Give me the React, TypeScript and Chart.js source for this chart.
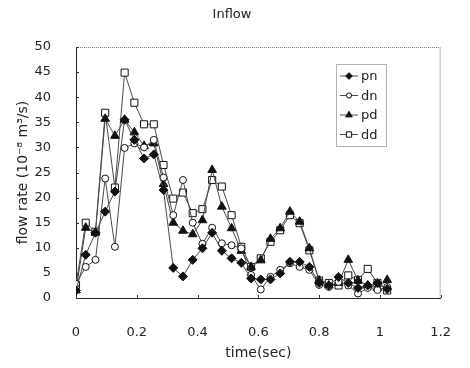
import React, { useEffect, useRef } from "react";
import { Chart, registerables } from "chart.js";

Chart.register(...registerables);

const times = [
  0, 0.032, 0.064, 0.096, 0.128, 0.16, 0.192, 0.224, 0.256, 0.288, 0.32,
  0.352, 0.384, 0.416, 0.448, 0.48, 0.512, 0.544, 0.576, 0.608, 0.64, 0.672,
  0.704, 0.736, 0.768, 0.8, 0.832, 0.864, 0.896, 0.928, 0.96, 0.992, 1.024,
];

const pn = [
  1.5, 8.6, 13, 17.2, 21.2, 35.5, 31.5, 27.8, 28.6, 21.5, 6, 4.3, 7.6, 9.9,
  13, 9.4, 7.9, 7, 3.9, 3.7, 3.7, 4.9, 7.2, 7.2, 6.2, 3.0, 2.5, 4.2, 3.0, 2.0,
  2.5, 3.0, 1.8,
];
const dn = [
  2.8, 6.2, 7.6, 23.8, 10.2, 29.9, 30.8, 30, 31.5, 24, 16.5, 23.5, 15, 10.8,
  14, 10.9, 10.5, 9.9, 4.6, 1.7, 4.2, 5.6, 6.9, 6.2, 5.6, 2.6, 2.2, 3.2, 2.5,
  0.9, 2.0, 1.6, 2.2,
];
const pd = [
  1.5, 14, 13, 35.7, 32.3, 35.5, 33, 30.3, 30.8, 22.7, 15, 13.4, 12.7, 15.5,
  25.5, 18.2, 13.9, 9.4, 6.2, 7.5, 11.8, 13.9, 17.2, 15.2, 9.9, 3.5, 2.5, 3.0,
  7.6, 3.5, 2.5, 2.0, 3.6,
];
const dd = [
  2.6, 15, 13.2, 36.9, 22, 44.9, 38.9, 34.6, 34.6, 26.5, 19.8, 21, 16.9, 17.7,
  23.5, 22.2, 16.5, 10.2, 6.2, 7.9, 11.2, 13.5, 16.5, 14.9, 9.5, 3.5, 3.0, 2.5,
  4.5, 3.6, 5.8, 3.0, 1.5,
];

const chartTitle = "Inflow";
const seriesNames = ["pn", "dn", "pd", "dd"];
const seriesValues = [pn, dn, pd, dd];
const pointStyles = ["rectRot", "circle", "triangle", "rect"];
const pointFills = ["#111", "#fff", "#111", "#fff"];
const pointRadii = [4.5, 3.5, 5, 5];

const FONT = "'DejaVu Sans', 'Liberation Sans', Arial, sans-serif";
const TEXT = "#222";
const LINE = "#4a4a4a";

function drawMarker(ctx: CanvasRenderingContext2D, style: string, x: number, y: number, r: number, fill: string) {
  ctx.save();
  ctx.beginPath();
  if (style === "rectRot") {
    ctx.moveTo(x, y - r);
    ctx.lineTo(x + r, y);
    ctx.lineTo(x, y + r);
    ctx.lineTo(x - r, y);
    ctx.closePath();
  } else if (style === "circle") {
    ctx.arc(x, y, r, 0, Math.PI * 2);
  } else if (style === "triangle") {
    ctx.moveTo(x, y - r);
    ctx.lineTo(x + r * 0.866, y + r * 0.5);
    ctx.lineTo(x - r * 0.866, y + r * 0.5);
    ctx.closePath();
  } else {
    ctx.rect(x - r * 0.707, y - r * 0.707, r * 1.414, r * 1.414);
  }
  ctx.fillStyle = fill;
  ctx.fill();
  ctx.strokeStyle = "#111";
  ctx.lineWidth = 1;
  ctx.stroke();
  ctx.restore();
}

const decorPlugin = {
  id: "decor",
  afterDraw(chart: any) {
    const ctx: CanvasRenderingContext2D = chart.ctx;
    const { left, right, top, bottom } = chart.chartArea;
    ctx.save();
    // chart title
    ctx.font = `13px ${FONT}`;
    ctx.fillStyle = TEXT;
    ctx.textAlign = "center";
    ctx.textBaseline = "middle";
    ctx.fillText(chartTitle, 232, 15);
    // dotted plot border
    ctx.strokeStyle = "#777";
    ctx.lineWidth = 1;
    ctx.setLineDash([1, 1]);
    ctx.beginPath();
    ctx.moveTo(left, top + 0.5);
    ctx.lineTo(right - 0.5, top + 0.5);
    ctx.lineTo(right - 0.5, bottom);
    ctx.stroke();
    ctx.setLineDash([]);
    // inside ticks
    ctx.strokeStyle = "#333";
    const xs = chart.scales.x;
    xs.ticks.forEach((t: any) => {
      const px = Math.round(xs.getPixelForValue(t.value)) + 0.5;
      ctx.beginPath();
      ctx.moveTo(px, bottom);
      ctx.lineTo(px, bottom - 3);
      ctx.stroke();
    });
    const ys = chart.scales.y;
    ys.ticks.forEach((t: any) => {
      const py = Math.round(ys.getPixelForValue(t.value)) + 0.5;
      ctx.beginPath();
      ctx.moveTo(left, py);
      ctx.lineTo(left + 3, py);
      ctx.stroke();
    });
    // legend
    const bx = 336, by = 64, bw = 50, bh = 82;
    ctx.fillStyle = "#fff";
    ctx.fillRect(bx, by, bw, bh);
    ctx.strokeStyle = "#666";
    ctx.setLineDash([1, 1]);
    ctx.strokeRect(bx + 0.5, by + 0.5, bw, bh);
    ctx.setLineDash([]);
    ctx.font = `13px ${FONT}`;
    ctx.textBaseline = "middle";
    ctx.textAlign = "left";
    seriesNames.forEach((name, i) => {
      const y = by + 12 + i * 19.5;
      ctx.strokeStyle = LINE;
      ctx.beginPath();
      ctx.moveTo(bx + 4, y);
      ctx.lineTo(bx + 22, y);
      ctx.stroke();
      drawMarker(ctx, pointStyles[i], bx + 13, y, pointRadii[i] * 0.75, pointFills[i]);
      ctx.fillStyle = TEXT;
      ctx.fillText(name, bx + 25, y + 1);
    });
    ctx.restore();
  },
};

export default function App() {
  const canvasRef = useRef<HTMLCanvasElement | null>(null);

  useEffect(() => {
    if (!canvasRef.current) return;
    const datasets = seriesNames.map((name, i) => ({
      label: name,
      data: times.map((t, k) => ({ x: t, y: seriesValues[i][k] })),
      borderColor: LINE,
      borderWidth: 1,
      pointStyle: pointStyles[i] as any,
      pointRadius: pointRadii[i],
      pointBackgroundColor: pointFills[i],
      pointBorderColor: "#111",
      pointBorderWidth: 1,
      tension: 0,
      fill: false,
    }));
    const chart = new Chart(canvasRef.current, {
      type: "line",
      data: { datasets },
      options: {
        animation: false,
        responsive: false,
        events: [],
        layout: { padding: { left: 0, right: 19, top: 47, bottom: 0 } },
        plugins: {
          legend: { display: false },
          tooltip: { enabled: false },
          title: { display: false },
        },
        scales: {
          x: {
            type: "linear",
            min: 0,
            max: 1.2,
            ticks: {
              stepSize: 0.2,
              padding: 19,
              color: TEXT,
              font: { family: FONT, size: 13 },
              callback: (v: any) => String(Math.round(Number(v) * 10) / 10),
            },
            grid: { display: false },
            border: { display: true, color: "#222", width: 1 },
            title: {
              display: true,
              text: "time(sec)",
              color: TEXT,
              font: { family: FONT, size: 14 },
              padding: { top: 0, bottom: 6 },
            },
            afterFit: (s: any) => {
              s.height = 70;
            },
          },
          y: {
            min: 0,
            max: 50,
            ticks: {
              stepSize: 5,
              padding: 17,
              color: TEXT,
              font: { family: FONT, size: 13 },
            },
            grid: { display: false },
            border: { display: true, color: "#222", width: 1 },
            title: {
              display: true,
              text: "flow rate (10⁻⁸ m³/s)",
              color: TEXT,
              font: { family: FONT, size: 14 },
              padding: { top: 15, bottom: 0 },
            },
            afterFit: (s: any) => {
              s.width = 76;
            },
          },
        },
      },
      plugins: [decorPlugin],
    });
    return () => chart.destroy();
  }, []);

  return (
    <div style={{ position: "absolute", left: 0, top: 0, width: 470, height: 368, background: "#fff" }}>
      <canvas ref={canvasRef} width={470} height={368} style={{ display: "block" }} />
    </div>
  );
}
